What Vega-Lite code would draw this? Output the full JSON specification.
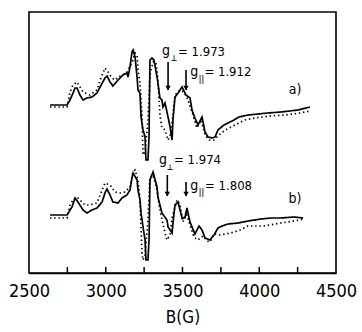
{
  "$schema": "https://vega.github.io/schema/vega-lite/v6.json",
  "width": 307,
  "height": 261,
  "autosize": "none",
  "padding": {"left": 29, "top": 12, "right": 26, "bottom": 59},
  "background": "white",
  "config": {
    "view": {"stroke": "black", "strokeWidth": 1.6},
    "font": "DejaVu Sans Condensed",
    "axis": {"grid": false}
  },
  "datasets": {
    "spectra": [
      {"B": 2637, "I": 168, "spectrum": "a", "trace": "solid"},
      {"B": 2748, "I": 168, "spectrum": "a", "trace": "solid"},
      {"B": 2767, "I": 173, "spectrum": "a", "trace": "solid"},
      {"B": 2787, "I": 180, "spectrum": "a", "trace": "solid"},
      {"B": 2800, "I": 185, "spectrum": "a", "trace": "solid"},
      {"B": 2813, "I": 185, "spectrum": "a", "trace": "solid"},
      {"B": 2832, "I": 178, "spectrum": "a", "trace": "solid"},
      {"B": 2852, "I": 173, "spectrum": "a", "trace": "solid"},
      {"B": 2878, "I": 175, "spectrum": "a", "trace": "solid"},
      {"B": 2910, "I": 176, "spectrum": "a", "trace": "solid"},
      {"B": 2943, "I": 180, "spectrum": "a", "trace": "solid"},
      {"B": 2963, "I": 186, "spectrum": "a", "trace": "solid"},
      {"B": 2995, "I": 195, "spectrum": "a", "trace": "solid"},
      {"B": 3008, "I": 197, "spectrum": "a", "trace": "solid"},
      {"B": 3028, "I": 191, "spectrum": "a", "trace": "solid"},
      {"B": 3047, "I": 187, "spectrum": "a", "trace": "solid"},
      {"B": 3080, "I": 193, "spectrum": "a", "trace": "solid"},
      {"B": 3112, "I": 198, "spectrum": "a", "trace": "solid"},
      {"B": 3138, "I": 200, "spectrum": "a", "trace": "solid"},
      {"B": 3145, "I": 196, "spectrum": "a", "trace": "solid"},
      {"B": 3158, "I": 206, "spectrum": "a", "trace": "solid"},
      {"B": 3171, "I": 221, "spectrum": "a", "trace": "solid"},
      {"B": 3178, "I": 223, "spectrum": "a", "trace": "solid"},
      {"B": 3191, "I": 216, "spectrum": "a", "trace": "solid"},
      {"B": 3204, "I": 196, "spectrum": "a", "trace": "solid"},
      {"B": 3210, "I": 183, "spectrum": "a", "trace": "solid"},
      {"B": 3223, "I": 180, "spectrum": "a", "trace": "solid"},
      {"B": 3230, "I": 156, "spectrum": "a", "trace": "solid"},
      {"B": 3243, "I": 143, "spectrum": "a", "trace": "solid"},
      {"B": 3256, "I": 136, "spectrum": "a", "trace": "solid"},
      {"B": 3262, "I": 113, "spectrum": "a", "trace": "solid"},
      {"B": 3275, "I": 113, "spectrum": "a", "trace": "solid"},
      {"B": 3282, "I": 136, "spectrum": "a", "trace": "solid"},
      {"B": 3288, "I": 213, "spectrum": "a", "trace": "solid"},
      {"B": 3301, "I": 215, "spectrum": "a", "trace": "solid"},
      {"B": 3314, "I": 213, "spectrum": "a", "trace": "solid"},
      {"B": 3334, "I": 196, "spectrum": "a", "trace": "solid"},
      {"B": 3340, "I": 190, "spectrum": "a", "trace": "solid"},
      {"B": 3353, "I": 175, "spectrum": "a", "trace": "solid"},
      {"B": 3366, "I": 173, "spectrum": "a", "trace": "solid"},
      {"B": 3373, "I": 166, "spectrum": "a", "trace": "solid"},
      {"B": 3386, "I": 170, "spectrum": "a", "trace": "solid"},
      {"B": 3406, "I": 156, "spectrum": "a", "trace": "solid"},
      {"B": 3419, "I": 146, "spectrum": "a", "trace": "solid"},
      {"B": 3432, "I": 133, "spectrum": "a", "trace": "solid"},
      {"B": 3438, "I": 153, "spectrum": "a", "trace": "solid"},
      {"B": 3451, "I": 176, "spectrum": "a", "trace": "solid"},
      {"B": 3471, "I": 180, "spectrum": "a", "trace": "solid"},
      {"B": 3497, "I": 186, "spectrum": "a", "trace": "solid"},
      {"B": 3523, "I": 178, "spectrum": "a", "trace": "solid"},
      {"B": 3549, "I": 175, "spectrum": "a", "trace": "solid"},
      {"B": 3562, "I": 163, "spectrum": "a", "trace": "solid"},
      {"B": 3581, "I": 155, "spectrum": "a", "trace": "solid"},
      {"B": 3601, "I": 148, "spectrum": "a", "trace": "solid"},
      {"B": 3627, "I": 156, "spectrum": "a", "trace": "solid"},
      {"B": 3647, "I": 141, "spectrum": "a", "trace": "solid"},
      {"B": 3666, "I": 136, "spectrum": "a", "trace": "solid"},
      {"B": 3692, "I": 135, "spectrum": "a", "trace": "solid"},
      {"B": 3712, "I": 136, "spectrum": "a", "trace": "solid"},
      {"B": 3731, "I": 143, "spectrum": "a", "trace": "solid"},
      {"B": 3770, "I": 148, "spectrum": "a", "trace": "solid"},
      {"B": 3836, "I": 153, "spectrum": "a", "trace": "solid"},
      {"B": 3868, "I": 156, "spectrum": "a", "trace": "solid"},
      {"B": 3927, "I": 158, "spectrum": "a", "trace": "solid"},
      {"B": 4057, "I": 160, "spectrum": "a", "trace": "solid"},
      {"B": 4142, "I": 161, "spectrum": "a", "trace": "solid"},
      {"B": 4253, "I": 163, "spectrum": "a", "trace": "solid"},
      {"B": 4331, "I": 166, "spectrum": "a", "trace": "solid"},

      {"B": 2637, "I": 166, "spectrum": "a", "trace": "dotted"},
      {"B": 2748, "I": 166, "spectrum": "a", "trace": "dotted"},
      {"B": 2767, "I": 181, "spectrum": "a", "trace": "dotted"},
      {"B": 2787, "I": 188, "spectrum": "a", "trace": "dotted"},
      {"B": 2813, "I": 191, "spectrum": "a", "trace": "dotted"},
      {"B": 2832, "I": 186, "spectrum": "a", "trace": "dotted"},
      {"B": 2852, "I": 181, "spectrum": "a", "trace": "dotted"},
      {"B": 2897, "I": 178, "spectrum": "a", "trace": "dotted"},
      {"B": 2943, "I": 183, "spectrum": "a", "trace": "dotted"},
      {"B": 2963, "I": 193, "spectrum": "a", "trace": "dotted"},
      {"B": 2982, "I": 200, "spectrum": "a", "trace": "dotted"},
      {"B": 2995, "I": 205, "spectrum": "a", "trace": "dotted"},
      {"B": 3015, "I": 201, "spectrum": "a", "trace": "dotted"},
      {"B": 3041, "I": 195, "spectrum": "a", "trace": "dotted"},
      {"B": 3060, "I": 193, "spectrum": "a", "trace": "dotted"},
      {"B": 3080, "I": 196, "spectrum": "a", "trace": "dotted"},
      {"B": 3112, "I": 198, "spectrum": "a", "trace": "dotted"},
      {"B": 3138, "I": 201, "spectrum": "a", "trace": "dotted"},
      {"B": 3171, "I": 210, "spectrum": "a", "trace": "dotted"},
      {"B": 3191, "I": 220, "spectrum": "a", "trace": "dotted"},
      {"B": 3204, "I": 218, "spectrum": "a", "trace": "dotted"},
      {"B": 3210, "I": 203, "spectrum": "a", "trace": "dotted"},
      {"B": 3223, "I": 190, "spectrum": "a", "trace": "dotted"},
      {"B": 3236, "I": 156, "spectrum": "a", "trace": "dotted"},
      {"B": 3243, "I": 118, "spectrum": "a", "trace": "dotted"},
      {"B": 3256, "I": 121, "spectrum": "a", "trace": "dotted"},
      {"B": 3275, "I": 153, "spectrum": "a", "trace": "dotted"},
      {"B": 3288, "I": 198, "spectrum": "a", "trace": "dotted"},
      {"B": 3308, "I": 211, "spectrum": "a", "trace": "dotted"},
      {"B": 3327, "I": 211, "spectrum": "a", "trace": "dotted"},
      {"B": 3340, "I": 193, "spectrum": "a", "trace": "dotted"},
      {"B": 3353, "I": 158, "spectrum": "a", "trace": "dotted"},
      {"B": 3366, "I": 145, "spectrum": "a", "trace": "dotted"},
      {"B": 3386, "I": 143, "spectrum": "a", "trace": "dotted"},
      {"B": 3406, "I": 133, "spectrum": "a", "trace": "dotted"},
      {"B": 3419, "I": 138, "spectrum": "a", "trace": "dotted"},
      {"B": 3432, "I": 150, "spectrum": "a", "trace": "dotted"},
      {"B": 3451, "I": 178, "spectrum": "a", "trace": "dotted"},
      {"B": 3484, "I": 183, "spectrum": "a", "trace": "dotted"},
      {"B": 3510, "I": 181, "spectrum": "a", "trace": "dotted"},
      {"B": 3536, "I": 173, "spectrum": "a", "trace": "dotted"},
      {"B": 3568, "I": 158, "spectrum": "a", "trace": "dotted"},
      {"B": 3594, "I": 145, "spectrum": "a", "trace": "dotted"},
      {"B": 3621, "I": 153, "spectrum": "a", "trace": "dotted"},
      {"B": 3647, "I": 138, "spectrum": "a", "trace": "dotted"},
      {"B": 3673, "I": 133, "spectrum": "a", "trace": "dotted"},
      {"B": 3705, "I": 133, "spectrum": "a", "trace": "dotted"},
      {"B": 3738, "I": 138, "spectrum": "a", "trace": "dotted"},
      {"B": 3777, "I": 143, "spectrum": "a", "trace": "dotted"},
      {"B": 3842, "I": 148, "spectrum": "a", "trace": "dotted"},
      {"B": 3907, "I": 153, "spectrum": "a", "trace": "dotted"},
      {"B": 3972, "I": 155, "spectrum": "a", "trace": "dotted"},
      {"B": 4070, "I": 157, "spectrum": "a", "trace": "dotted"},
      {"B": 4168, "I": 158, "spectrum": "a", "trace": "dotted"},
      {"B": 4266, "I": 160, "spectrum": "a", "trace": "dotted"},
      {"B": 4331, "I": 162, "spectrum": "a", "trace": "dotted"},

      {"B": 2637, "I": 58, "spectrum": "b", "trace": "solid"},
      {"B": 2748, "I": 58, "spectrum": "b", "trace": "solid"},
      {"B": 2780, "I": 66, "spectrum": "b", "trace": "solid"},
      {"B": 2800, "I": 75, "spectrum": "b", "trace": "solid"},
      {"B": 2819, "I": 71, "spectrum": "b", "trace": "solid"},
      {"B": 2852, "I": 63, "spectrum": "b", "trace": "solid"},
      {"B": 2878, "I": 60, "spectrum": "b", "trace": "solid"},
      {"B": 2910, "I": 63, "spectrum": "b", "trace": "solid"},
      {"B": 2943, "I": 65, "spectrum": "b", "trace": "solid"},
      {"B": 2976, "I": 71, "spectrum": "b", "trace": "solid"},
      {"B": 2995, "I": 80, "spectrum": "b", "trace": "solid"},
      {"B": 3008, "I": 84, "spectrum": "b", "trace": "solid"},
      {"B": 3028, "I": 78, "spectrum": "b", "trace": "solid"},
      {"B": 3047, "I": 71, "spectrum": "b", "trace": "solid"},
      {"B": 3080, "I": 70, "spectrum": "b", "trace": "solid"},
      {"B": 3106, "I": 75, "spectrum": "b", "trace": "solid"},
      {"B": 3138, "I": 78, "spectrum": "b", "trace": "solid"},
      {"B": 3158, "I": 83, "spectrum": "b", "trace": "solid"},
      {"B": 3171, "I": 95, "spectrum": "b", "trace": "solid"},
      {"B": 3178, "I": 100, "spectrum": "b", "trace": "solid"},
      {"B": 3204, "I": 93, "spectrum": "b", "trace": "solid"},
      {"B": 3210, "I": 83, "spectrum": "b", "trace": "solid"},
      {"B": 3223, "I": 73, "spectrum": "b", "trace": "solid"},
      {"B": 3230, "I": 60, "spectrum": "b", "trace": "solid"},
      {"B": 3243, "I": 46, "spectrum": "b", "trace": "solid"},
      {"B": 3256, "I": 33, "spectrum": "b", "trace": "solid"},
      {"B": 3262, "I": 13, "spectrum": "b", "trace": "solid"},
      {"B": 3275, "I": 13, "spectrum": "b", "trace": "solid"},
      {"B": 3282, "I": 33, "spectrum": "b", "trace": "solid"},
      {"B": 3288, "I": 93, "spectrum": "b", "trace": "solid"},
      {"B": 3308, "I": 101, "spectrum": "b", "trace": "solid"},
      {"B": 3334, "I": 86, "spectrum": "b", "trace": "solid"},
      {"B": 3340, "I": 76, "spectrum": "b", "trace": "solid"},
      {"B": 3366, "I": 60, "spectrum": "b", "trace": "solid"},
      {"B": 3399, "I": 53, "spectrum": "b", "trace": "solid"},
      {"B": 3406, "I": 46, "spectrum": "b", "trace": "solid"},
      {"B": 3432, "I": 40, "spectrum": "b", "trace": "solid"},
      {"B": 3438, "I": 50, "spectrum": "b", "trace": "solid"},
      {"B": 3451, "I": 68, "spectrum": "b", "trace": "solid"},
      {"B": 3471, "I": 71, "spectrum": "b", "trace": "solid"},
      {"B": 3497, "I": 55, "spectrum": "b", "trace": "solid"},
      {"B": 3516, "I": 55, "spectrum": "b", "trace": "solid"},
      {"B": 3529, "I": 65, "spectrum": "b", "trace": "solid"},
      {"B": 3549, "I": 51, "spectrum": "b", "trace": "solid"},
      {"B": 3581, "I": 39, "spectrum": "b", "trace": "solid"},
      {"B": 3608, "I": 47, "spectrum": "b", "trace": "solid"},
      {"B": 3627, "I": 43, "spectrum": "b", "trace": "solid"},
      {"B": 3647, "I": 35, "spectrum": "b", "trace": "solid"},
      {"B": 3679, "I": 33, "spectrum": "b", "trace": "solid"},
      {"B": 3705, "I": 38, "spectrum": "b", "trace": "solid"},
      {"B": 3731, "I": 45, "spectrum": "b", "trace": "solid"},
      {"B": 3757, "I": 47, "spectrum": "b", "trace": "solid"},
      {"B": 3796, "I": 49, "spectrum": "b", "trace": "solid"},
      {"B": 3862, "I": 50, "spectrum": "b", "trace": "solid"},
      {"B": 3927, "I": 52, "spectrum": "b", "trace": "solid"},
      {"B": 4011, "I": 54, "spectrum": "b", "trace": "solid"},
      {"B": 4077, "I": 55, "spectrum": "b", "trace": "solid"},
      {"B": 4142, "I": 55, "spectrum": "b", "trace": "solid"},
      {"B": 4226, "I": 56, "spectrum": "b", "trace": "solid"},
      {"B": 4285, "I": 55, "spectrum": "b", "trace": "solid"},

      {"B": 2637, "I": 55, "spectrum": "b", "trace": "dotted"},
      {"B": 2748, "I": 55, "spectrum": "b", "trace": "dotted"},
      {"B": 2767, "I": 68, "spectrum": "b", "trace": "dotted"},
      {"B": 2787, "I": 73, "spectrum": "b", "trace": "dotted"},
      {"B": 2813, "I": 76, "spectrum": "b", "trace": "dotted"},
      {"B": 2832, "I": 73, "spectrum": "b", "trace": "dotted"},
      {"B": 2865, "I": 68, "spectrum": "b", "trace": "dotted"},
      {"B": 2897, "I": 68, "spectrum": "b", "trace": "dotted"},
      {"B": 2943, "I": 70, "spectrum": "b", "trace": "dotted"},
      {"B": 2963, "I": 78, "spectrum": "b", "trace": "dotted"},
      {"B": 2982, "I": 85, "spectrum": "b", "trace": "dotted"},
      {"B": 2995, "I": 90, "spectrum": "b", "trace": "dotted"},
      {"B": 3028, "I": 88, "spectrum": "b", "trace": "dotted"},
      {"B": 3060, "I": 81, "spectrum": "b", "trace": "dotted"},
      {"B": 3093, "I": 80, "spectrum": "b", "trace": "dotted"},
      {"B": 3125, "I": 81, "spectrum": "b", "trace": "dotted"},
      {"B": 3158, "I": 86, "spectrum": "b", "trace": "dotted"},
      {"B": 3178, "I": 101, "spectrum": "b", "trace": "dotted"},
      {"B": 3191, "I": 103, "spectrum": "b", "trace": "dotted"},
      {"B": 3210, "I": 93, "spectrum": "b", "trace": "dotted"},
      {"B": 3223, "I": 73, "spectrum": "b", "trace": "dotted"},
      {"B": 3236, "I": 20, "spectrum": "b", "trace": "dotted"},
      {"B": 3243, "I": 13, "spectrum": "b", "trace": "dotted"},
      {"B": 3256, "I": 18, "spectrum": "b", "trace": "dotted"},
      {"B": 3275, "I": 53, "spectrum": "b", "trace": "dotted"},
      {"B": 3288, "I": 96, "spectrum": "b", "trace": "dotted"},
      {"B": 3308, "I": 98, "spectrum": "b", "trace": "dotted"},
      {"B": 3334, "I": 83, "spectrum": "b", "trace": "dotted"},
      {"B": 3353, "I": 63, "spectrum": "b", "trace": "dotted"},
      {"B": 3386, "I": 40, "spectrum": "b", "trace": "dotted"},
      {"B": 3399, "I": 33, "spectrum": "b", "trace": "dotted"},
      {"B": 3419, "I": 38, "spectrum": "b", "trace": "dotted"},
      {"B": 3432, "I": 55, "spectrum": "b", "trace": "dotted"},
      {"B": 3464, "I": 73, "spectrum": "b", "trace": "dotted"},
      {"B": 3484, "I": 68, "spectrum": "b", "trace": "dotted"},
      {"B": 3503, "I": 51, "spectrum": "b", "trace": "dotted"},
      {"B": 3523, "I": 61, "spectrum": "b", "trace": "dotted"},
      {"B": 3549, "I": 48, "spectrum": "b", "trace": "dotted"},
      {"B": 3575, "I": 36, "spectrum": "b", "trace": "dotted"},
      {"B": 3601, "I": 33, "spectrum": "b", "trace": "dotted"},
      {"B": 3634, "I": 37, "spectrum": "b", "trace": "dotted"},
      {"B": 3660, "I": 32, "spectrum": "b", "trace": "dotted"},
      {"B": 3679, "I": 31, "spectrum": "b", "trace": "dotted"},
      {"B": 3705, "I": 39, "spectrum": "b", "trace": "dotted"},
      {"B": 3744, "I": 38, "spectrum": "b", "trace": "dotted"},
      {"B": 3816, "I": 40, "spectrum": "b", "trace": "dotted"},
      {"B": 3875, "I": 43, "spectrum": "b", "trace": "dotted"},
      {"B": 3927, "I": 47, "spectrum": "b", "trace": "dotted"},
      {"B": 4031, "I": 47, "spectrum": "b", "trace": "dotted"},
      {"B": 4142, "I": 50, "spectrum": "b", "trace": "dotted"},
      {"B": 4266, "I": 53, "spectrum": "b", "trace": "dotted"},
      {"B": 4285, "I": 54, "spectrum": "b", "trace": "dotted"}
    ],
    "ticks": [
      {"B": 2750}, {"B": 3000}, {"B": 3250}, {"B": 3500},
      {"B": 3750}, {"B": 4000}, {"B": 4250}
    ],
    "arrows": [
      {"B": 3406, "top": 211, "tip": 183},
      {"B": 3523, "top": 203, "tip": 183},
      {"B": 3401, "top": 98, "tip": 77},
      {"B": 3523, "top": 91, "tip": 77}
    ],
    "gs": [
      {"B": 3393, "I": 222, "t": "g"},
      {"B": 3576, "I": 201, "t": "g"},
      {"B": 3373, "I": 113, "t": "g"},
      {"B": 3576, "I": 87, "t": "g"}
    ],
    "subs": [
      {"B": 3445, "I": 214, "t": "⊥"},
      {"B": 3623, "I": 193, "t": "||"},
      {"B": 3419, "I": 105, "t": "⊥"},
      {"B": 3623, "I": 80, "t": "||"}
    ],
    "vals": [
      {"B": 3471, "I": 221, "t": "= 1.973"},
      {"B": 3643, "I": 201, "t": "= 1.912"},
      {"B": 3445, "I": 113, "t": "= 1.974"},
      {"B": 3647, "I": 87, "t": "= 1.808"}
    ],
    "tags": [
      {"B": 4233, "I": 183, "t": "a)"},
      {"B": 4233, "I": 74, "t": "b)"}
    ]
  },
  "layer": [
    {
      "data": {"name": "spectra"},
      "mark": {"type": "line", "color": "black", "strokeWidth": 1.7},
      "encoding": {
        "x": {
          "field": "B", "type": "quantitative",
          "scale": {"domain": [2500, 4500], "nice": false},
          "axis": {
            "values": [2500, 3000, 3500, 4000, 4500],
            "title": "B(G)",
            "format": "d",
            "domainColor": "black", "domainWidth": 1.6,
            "ticks": false,
            "labelColor": "black", "labelFont": "DejaVu Sans Condensed", "labelFontSize": 18,
            "labelPadding": 9, "labelFlush": false, "labelOverlap": false,
            "titleColor": "black", "titleFont": "DejaVu Sans Condensed", "titleFontSize": 17,
            "titleFontWeight": "normal", "titlePadding": 9
          }
        },
        "y": {"field": "I", "type": "quantitative", "scale": {"domain": [0, 261], "nice": false}, "axis": null},
        "detail": {"field": "spectrum"},
        "strokeDash": {
          "field": "trace", "type": "nominal",
          "scale": {"domain": ["solid", "dotted"], "range": [[1, 0], [1.4, 2.8]]},
          "legend": null
        }
      }
    },
    {
      "data": {"name": "ticks"},
      "mark": {"type": "tick", "orient": "vertical", "color": "black", "thickness": 1.5, "size": 6, "opacity": 1, "yOffset": -3},
      "encoding": {
        "x": {"field": "B", "type": "quantitative"},
        "y": {"datum": 0, "type": "quantitative"}
      }
    },
    {
      "data": {"name": "arrows"},
      "mark": {"type": "rule", "color": "black", "strokeWidth": 1.6},
      "encoding": {
        "x": {"field": "B", "type": "quantitative"},
        "y": {"field": "top", "type": "quantitative"},
        "y2": {"field": "tip"}
      }
    },
    {
      "data": {"name": "arrows"},
      "mark": {"type": "point", "shape": "triangle-down", "filled": true, "color": "black", "size": 30, "opacity": 1, "yOffset": -2},
      "encoding": {
        "x": {"field": "B", "type": "quantitative"},
        "y": {"field": "tip", "type": "quantitative"}
      }
    },
    {
      "data": {"name": "gs"},
      "mark": {"type": "text", "font": "DejaVu Sans Condensed", "fontSize": 14, "color": "black", "align": "center", "baseline": "middle"},
      "encoding": {
        "x": {"field": "B", "type": "quantitative"},
        "y": {"field": "I", "type": "quantitative"},
        "text": {"field": "t"}
      }
    },
    {
      "data": {"name": "subs"},
      "mark": {"type": "text", "font": "DejaVu Sans Condensed", "fontSize": 8, "fontWeight": "bold", "color": "black", "align": "center", "baseline": "middle"},
      "encoding": {
        "x": {"field": "B", "type": "quantitative"},
        "y": {"field": "I", "type": "quantitative"},
        "text": {"field": "t"}
      }
    },
    {
      "data": {"name": "vals"},
      "mark": {"type": "text", "font": "DejaVu Sans Condensed", "fontSize": 13, "color": "black", "align": "left", "baseline": "middle"},
      "encoding": {
        "x": {"field": "B", "type": "quantitative"},
        "y": {"field": "I", "type": "quantitative"},
        "text": {"field": "t"}
      }
    },
    {
      "data": {"name": "tags"},
      "mark": {"type": "text", "font": "DejaVu Sans Condensed", "fontSize": 14, "color": "black", "align": "center", "baseline": "middle"},
      "encoding": {
        "x": {"field": "B", "type": "quantitative"},
        "y": {"field": "I", "type": "quantitative"},
        "text": {"field": "t"}
      }
    }
  ]
}
